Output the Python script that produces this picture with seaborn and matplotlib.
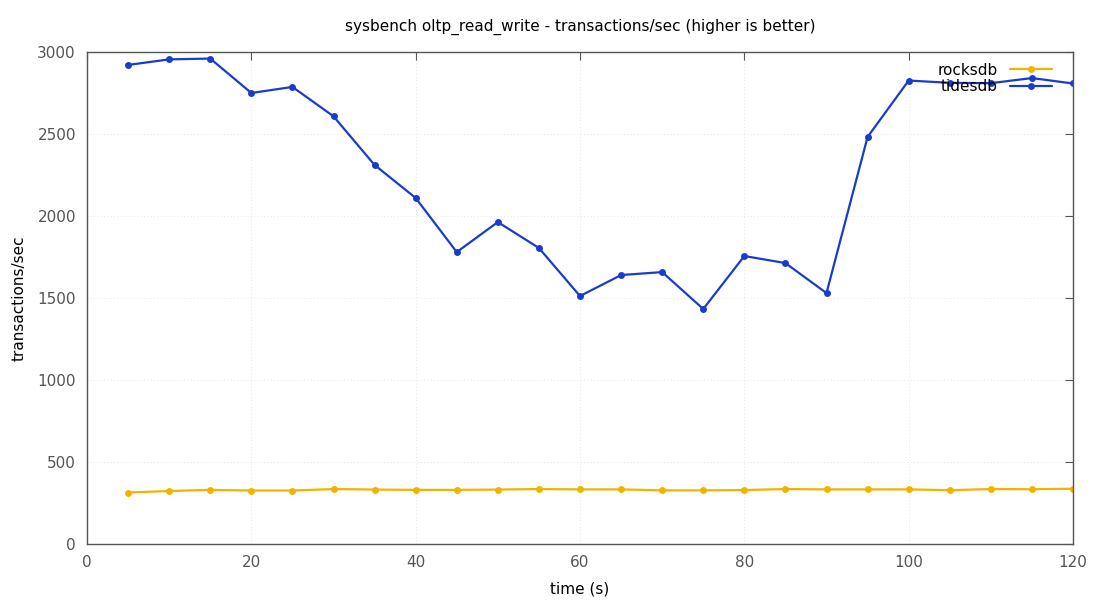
import matplotlib
matplotlib.use("Agg")
import matplotlib.pyplot as plt
import seaborn as sns
import pandas as pd

time_s = [5, 10, 15, 20, 25, 30, 35, 40, 45, 50, 55, 60, 65, 70, 75, 80, 85, 90, 95, 100, 105, 110, 115, 120]
rocksdb = [314, 323, 330, 326, 326, 335, 332, 330, 330, 332, 335, 333, 333, 327, 327, 329, 335, 333, 333, 333, 328, 335, 334, 337]
tidesdb = [2921, 2955, 2960, 2750, 2787, 2608, 2311, 2110, 1780, 1963, 1805, 1512, 1640, 1658, 1433, 1756, 1713, 1530, 2482, 2826, 2812, 2810, 2841, 2808]
series = ["rocksdb", "tidesdb"]
colors = {"rocksdb": "#f0b400", "tidesdb": "#1a3ccc"}

df = pd.concat([
    pd.DataFrame({"time": time_s, "tps": rocksdb, "engine": "rocksdb"}),
    pd.DataFrame({"time": time_s, "tps": tidesdb, "engine": "tidesdb"}),
])

sns.set_style("white")
plt.rcParams["font.family"] = ["DejaVu Sans"]

fig = plt.figure(figsize=(11, 6), dpi=100)
ax = fig.add_axes([87/1100, 1-544/600, (1073-87)/1100, (544-52)/600])

sns.lineplot(data=df, x="time", y="tps", hue="engine", hue_order=series, palette=colors,
             marker="o", markersize=5, markeredgewidth=0, linewidth=1.6, ax=ax)

ax.set_xlim(0, 120)
ax.set_ylim(0, 3000)
ax.set_xticks(range(0, 121, 20))
ax.set_yticks(range(0, 3001, 500))
ax.grid(True, linestyle=(0, (1, 3)), color="#dddddd", linewidth=0.6)
for s in ax.spines.values():
    s.set_color("#555555")
    s.set_linewidth(1.0)
ax.tick_params(direction="in", length=6, color="#555555", labelcolor="#555555",
               labelsize=11, top=True, right=True, pad=8)
ax.set_xlabel("time (s)", fontsize=11, labelpad=8, color="black")
ax.set_ylabel("transactions/sec", fontsize=11, labelpad=8, color="black")
ax.set_title("sysbench oltp_read_write - transactions/sec (higher is better)", fontsize=11, pad=15, color="black")

leg = ax.legend(loc="upper right", frameon=False, markerfirst=False, fontsize=11,
                handlelength=2.8, labelspacing=0.1, borderaxespad=0.3, bbox_to_anchor=(0.99, 1.0))
for t in leg.get_texts():
    t.set_color("black")

fig.savefig("out.png", dpi=100)
